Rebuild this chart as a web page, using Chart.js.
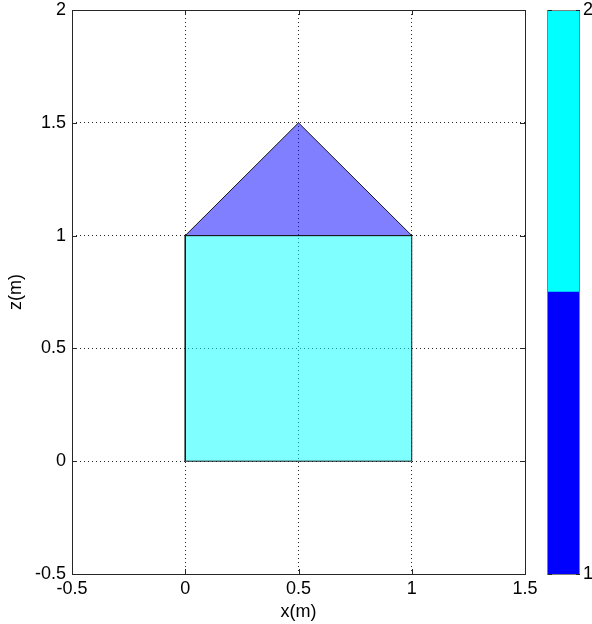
<!DOCTYPE html>
<html>
<head>
<meta charset="utf-8">
<script src="https://cdn.jsdelivr.net/npm/chart.js@4/dist/chart.umd.min.js"></script>
<style>
  html, body { margin: 0; padding: 0; background: #fff; }
  #wrap { position: relative; width: 592px; height: 624px; }
  #main { position: absolute; left: 0; top: 0; }
  #cbar { position: absolute; left: 540px; top: 0; }
</style>
</head>
<body>
<div id="wrap">
  <canvas id="main" width="592" height="624"></canvas>
  <canvas id="cbar" width="52" height="624"></canvas>
</div>
<script>
// House outline: walls (rectangle) and roof (triangle), in metres
const wallX = [0, 1, 1, 0, 0];
const wallZ = [0, 0, 1, 1, 0];
const roofX = [0, 1, 0.5, 0];
const roofZ = [1, 1, 1.5, 1];

// Axis ticks
const xTicks = [-0.5, 0, 0.5, 1, 1.5];
const zTicks = [-0.5, 0, 0.5, 1, 1.5, 2];

// Colour bar: value bands and their colours
const cbarBands = [[1, 1.5], [1.5, 2]];
const cbarColors = ['#0000ff', '#00ffff'];
const cbarTicks = [1, 2];

const FONT = { family: '"Liberation Sans", Arial, sans-serif', size: 18 };
Chart.defaults.font.family = FONT.family;
Chart.defaults.color = '#000';

const toPts = (xs, ys) => xs.map((x, i) => ({ x: x, y: ys[i] }));
const fmt = v => String(Math.round(v * 10) / 10);
const noEdgePad = s => { s.paddingTop = 0; s.paddingBottom = 0; s.paddingLeft = 0; s.paddingRight = 0; };

// Solid frame around the plot area plus short inward tick marks
const framePlugin = {
  id: 'frame',
  afterDraw(chart) {
    const { ctx, chartArea: a, scales } = chart;
    ctx.save();
    ctx.strokeStyle = '#262626';
    ctx.lineWidth = 1;
    ctx.strokeRect(Math.round(a.left) + 0.5, Math.round(a.top) + 0.5,
                   Math.round(a.right - a.left), Math.round(a.bottom - a.top));
    const L = 5;
    ctx.beginPath();
    xTicks.forEach(v => {
      const px = Math.round(scales.x.getPixelForValue(v)) + 0.5;
      ctx.moveTo(px, a.bottom); ctx.lineTo(px, a.bottom - L);
      ctx.moveTo(px, a.top); ctx.lineTo(px, a.top + L);
    });
    zTicks.forEach(v => {
      const py = Math.round(scales.y.getPixelForValue(v)) + 0.5;
      ctx.moveTo(a.left, py); ctx.lineTo(a.left + L, py);
      ctx.moveTo(a.right, py); ctx.lineTo(a.right - L, py);
    });
    ctx.stroke();
    ctx.restore();
  }
};

const gridStyle = {
  color: 'rgba(0,0,0,0.85)',
  lineWidth: 1,
  drawTicks: false
};

new Chart(document.getElementById('main'), {
  type: 'scatter',
  data: {
    datasets: [
      {
        label: 'roof',
        data: toPts(roofX, roofZ),
        showLine: true,
        fill: 'shape',
        backgroundColor: 'rgba(0,0,255,0.5)',
        borderColor: '#1a1a1a',
        borderWidth: 1,
        pointRadius: 0,
        tension: 0
      },
      {
        label: 'walls',
        data: toPts(wallX, wallZ),
        showLine: true,
        fill: 'shape',
        backgroundColor: 'rgba(0,255,255,0.5)',
        borderColor: '#1a1a1a',
        borderWidth: 1,
        pointRadius: 0,
        tension: 0
      }
    ]
  },
  options: {
    responsive: false,
    animation: false,
    events: [],
    layout: { padding: { left: 0, top: 10, right: 67, bottom: 0 } },
    plugins: { legend: { display: false }, tooltip: { enabled: false } },
    scales: {
      x: {
        type: 'linear',
        min: -0.5, max: 1.5,
        afterBuildTicks: s => { s.ticks = xTicks.map(v => ({ value: v })); },
        afterFit: s => { s.height = 50; noEdgePad(s); },
        ticks: { font: FONT, padding: 4, maxRotation: 0, callback: v => fmt(v) },
        grid: Object.assign({}, gridStyle),
        border: { display: false, dash: [1, 3] },
        title: { display: true, text: 'x(m)', font: FONT, padding: { top: 0, bottom: 1 } }
      },
      y: {
        type: 'linear',
        min: -0.5, max: 2,
        afterBuildTicks: s => { s.ticks = zTicks.map(v => ({ value: v })); },
        afterFit: s => { s.width = 72; noEdgePad(s); },
        ticks: { font: FONT, padding: 6, callback: v => fmt(v) },
        grid: Object.assign({}, gridStyle),
        border: { display: false, dash: [1, 3] },
        title: { display: true, text: 'z(m)', font: FONT, padding: { top: 5, bottom: 0 } }
      }
    }
  },
  plugins: [framePlugin]
});

// Colour bar beside the plot
const cbarFrame = {
  id: 'cbarFrame',
  afterDraw(chart) {
    const { ctx, chartArea: a, scales } = chart;
    ctx.save();
    ctx.strokeStyle = '#808080';
    ctx.lineWidth = 1;
    ctx.strokeRect(Math.round(a.left) - 0.5, Math.round(a.top) + 0.5,
                   Math.round(a.right - a.left), Math.round(a.bottom - a.top));
    ctx.strokeStyle = '#262626';
    ctx.beginPath();
    cbarTicks.forEach(v => {
      const py = Math.round(scales.y.getPixelForValue(v)) + 0.5;
      ctx.moveTo(a.left, py); ctx.lineTo(a.left + 4, py);
      ctx.moveTo(a.right, py); ctx.lineTo(a.right - 4, py);
    });
    ctx.stroke();
    ctx.restore();
  }
};

new Chart(document.getElementById('cbar'), {
  type: 'bar',
  data: {
    labels: ['c'],
    datasets: cbarBands.map((b, i) => ({
      data: [b],
      backgroundColor: cbarColors[i],
      borderWidth: 0,
      barPercentage: 1,
      categoryPercentage: 1
    }))
  },
  options: {
    responsive: false,
    animation: false,
    events: [],
    layout: { padding: { left: 8, top: 10, right: 0, bottom: 50 } },
    plugins: { legend: { display: false }, tooltip: { enabled: false } },
    scales: {
      x: { display: false, stacked: true },
      y: {
        position: 'right',
        min: 1, max: 2,
        afterBuildTicks: s => { s.ticks = cbarTicks.map(v => ({ value: v })); },
        afterFit: s => { s.width = 12; noEdgePad(s); },
        ticks: { font: FONT, padding: 3, callback: v => fmt(v) },
        grid: { display: false, drawTicks: false },
        border: { display: false }
      }
    }
  },
  plugins: [cbarFrame]
});
</script>
</body>
</html>
